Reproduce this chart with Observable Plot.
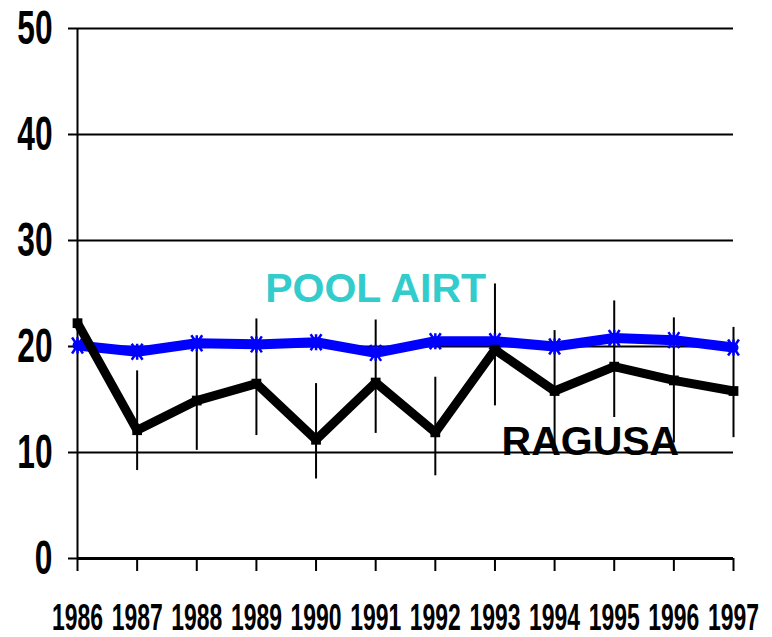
<!DOCTYPE html>
<html><head><meta charset="utf-8">
<script src="https://cdn.jsdelivr.net/npm/d3@7"></script>
<script src="https://cdn.jsdelivr.net/npm/@observablehq/plot@0.6"></script>
<style>
body{margin:0;background:#fff}
#chart svg{display:block;background:#fff}
g[aria-label$="tick label"]{font-family:"Liberation Sans",Arial,sans-serif;font-weight:bold}
g[aria-label="series label"]{font-family:"Liberation Sans",Arial,sans-serif;font-weight:bold}
</style></head><body><div id="chart"></div>
<script>
const years = [1986,1987,1988,1989,1990,1991,1992,1993,1994,1995,1996,1997];
const poolAirt = [20.1,19.5,20.3,20.2,20.4,19.4,20.5,20.5,20.0,20.8,20.6,19.9];
const ragusa = [22.2,12.1,14.9,16.5,11.2,16.6,11.9,19.7,15.8,18.1,16.8,15.8];
const ragusaLow = [null,8.3,10.2,11.6,7.5,11.8,7.8,14.4,10.1,13.3,10.9,11.4];
const ragusaHigh = [null,17.7,19.6,22.6,16.5,22.5,17.1,25.9,21.5,24.3,22.7,21.8];
const yTicks = [0,10,20,30,40,50];
const labelNames = ["POOL AIRT","RAGUSA"];
const labelYears = [1991,1994.6];
const labelValues = [25.4,11.0];
const labelColors = ["#33CCCC","#000000"];

const pool = years.map((y,i)=>({year:y,value:poolAirt[i]}));
const rag = years.map((y,i)=>({year:y,value:ragusa[i],lo:ragusaLow[i],hi:ragusaHigh[i]}));
const labels = labelNames.map((n,i)=>({name:n,year:labelYears[i],value:labelValues[i],color:labelColors[i]}));

// Excel-style star marker: an X plus a vertical bar
const starSymbol = {
  draw(context, size) {
    const r = Math.sqrt(size / Math.PI), w = r * 0.68;
    context.moveTo(0, -r); context.lineTo(0, r);
    context.moveTo(-w, -r); context.lineTo(w, r);
    context.moveTo(w, -r); context.lineTo(-w, r);
  }
};

const chart = Plot.plot({
  width:772, height:637,
  marginLeft:77, marginRight:39, marginTop:28, marginBottom:79,
  x:{domain:[1986,1997]},
  y:{domain:[0,50]},
  marks:[
    Plot.gridY(yTicks,{stroke:"black",strokeOpacity:1,strokeWidth:2}),
    Plot.axisY(yTicks,{tickSize:9,tickPadding:16,fontSize:48,tickFormat:d=>String(d),label:null,stroke:"black",strokeWidth:2}),
    Plot.axisX(years,{tickSize:13,tickPadding:32,fontSize:37,tickFormat:d=>String(d),label:null,stroke:"black",strokeWidth:2}),
    Plot.ruleX([1986],{y1:0,y2:50,stroke:"black",strokeWidth:2}),
    Plot.ruleY([0],{stroke:"black",strokeWidth:3}),
    Plot.ruleX(rag.filter(d=>d.lo!=null),{x:"year",y1:"lo",y2:"hi",stroke:"black",strokeWidth:2}),
    Plot.line(pool,{x:"year",y:"value",stroke:"#0000FF",strokeWidth:10,strokeLinejoin:"miter"}),
    Plot.dot(pool,{x:"year",y:"value",symbol:starSymbol,r:8,fill:"none",stroke:"#0000FF",strokeWidth:2.5}),
    Plot.line(rag,{x:"year",y:"value",stroke:"black",strokeWidth:9,strokeLinejoin:"miter"}),
    Plot.dot(rag,{x:"year",y:"value",symbol:"square",r:5.5,fill:"black"}),
    Plot.text(labels,{x:"year",y:"value",text:"name",fill:"color",fontSize:41,ariaLabel:"series label"})
  ]
});
chart.querySelectorAll('g[aria-label="text"], g[aria-label="series label"]').forEach(g=>g.setAttribute("aria-label","series label"));
chart.querySelectorAll('g[aria-label$="tick label"]').forEach(g=>{
  const s = g.getAttribute("aria-label").startsWith("y") ? 0.66 : 0.62;
  g.querySelectorAll("text").forEach(t=>{
    const xa = t.getAttribute("x");
    let pre = "";
    if (xa != null && !isNaN(+xa)) { pre = ` translate(${+xa},0)`; t.removeAttribute("x"); }
    const tr = t.getAttribute("transform")||"";
    t.setAttribute("transform", `${tr}${pre} scale(${s},1)`);
  });
});
document.getElementById("chart").appendChild(chart);
</script></body></html>
